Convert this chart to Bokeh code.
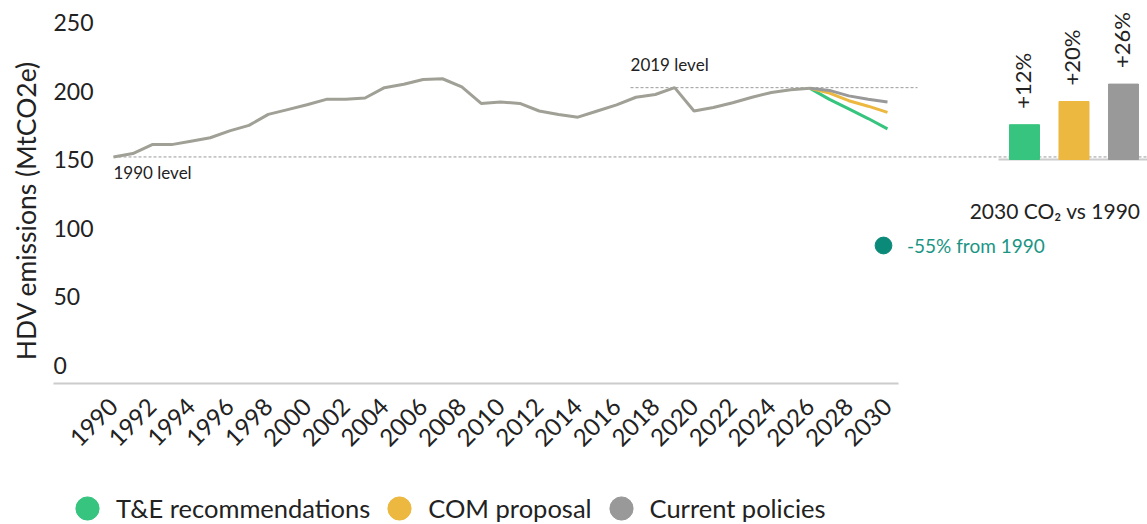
import math
import numpy as np
from bokeh.plotting import figure
from bokeh.models import (Range1d, FixedTicker, Legend, LegendItem, Label,
                          ColumnDataSource)
from bokeh.core.properties import value
from bokeh.embed import file_html
from bokeh.resources import INLINE

FONT = "Lato"
TEXT = "#222222"

# ---------------- data ----------------
years_hist = list(range(1990, 2027))
emissions_hist = [152, 154.5, 161, 161, 163.5, 166, 171, 175, 183, 186.5,
                  190, 194, 194, 195, 202.5, 205, 208.5, 209, 203, 191,
                  192, 191, 185.5, 183, 181, 185.5, 190, 195.5, 197.5, 202.5,
                  185.5, 188, 191.5, 195.5, 199, 201, 202]
years_proj = [2026, 2027, 2028, 2029, 2030]
te_recommendations = [202, 194, 187, 180, 172.5]
com_proposal = [202, 198.5, 193, 189, 184.5]
current_policies = [202, 200.5, 196.5, 194, 192]

scenario_names = ["T&E recommendations", "COM proposal", "Current policies"]
scenario_colors = ["#36c47e", "#ecb83f", "#999999"]
bar_values = [12, 20, 26]          # % change 2030 vs 1990
bar_labels = ["+12%", "+20%", "+26%"]

y_ticks = [0, 50, 100, 150, 200, 250]
x_ticks = list(range(1990, 2031, 2))

level_1990 = emissions_hist[0]
level_2019 = emissions_hist[years_hist.index(2019)]
y_title = "HDV emissions (MtCO2e)"
target_label = "-55% from 1990"
bars_title = "2030 CO\u2082 vs 1990"

# ---------------- figure (frame = whole canvas) ----------------
W, H = 1147, 524
X0, X1 = 1984.16, 2043.437
AX_LEFT, AX_RIGHT = 1986.90, 2030.57
Y_AXIS = -13.12
p = figure(width=W, height=H, output_backend="svg", toolbar_location=None,
           x_range=Range1d(X0, X1), y_range=Range1d(-115.89, 266.03),
           y_axis_location="right",
           min_border_left=0, min_border_right=0, min_border_top=0,
           min_border_bottom=0)
p.grid.visible = False
p.outline_line_color = None
p.background_fill_color = "white"
p.border_fill_color = "white"

p.extra_x_ranges = {"bars": Range1d(-20.687, 2.485)}
p.extra_y_ranges = {"pct": Range1d(-125.86, 54.83)}

# x axis (drawn inside frame at its own level)
xa = p.xaxis[0]
xa.fixed_location = Y_AXIS
xa.ticker = FixedTicker(ticks=x_ticks)
xa.bounds = (AX_LEFT, AX_RIGHT)
xa.axis_line_color = "#cccccc"
xa.axis_line_width = 2
xa.major_tick_line_color = None
xa.minor_tick_line_color = None
xa.major_tick_out = 0
xa.major_tick_in = 0
xa.major_label_orientation = math.pi / 4
xa.major_label_standoff = 19
xa.major_label_text_font = FONT
xa.major_label_text_font_size = "24px"
xa.major_label_text_color = TEXT

# y tick labels, left aligned inside the frame
ya = p.yaxis[0]
ya.fixed_location = AX_LEFT
ya.ticker = FixedTicker(ticks=y_ticks)
ya.axis_line_color = None
ya.major_tick_line_color = None
ya.minor_tick_line_color = None
ya.major_tick_in = 0
ya.major_tick_out = 0
ya.major_label_standoff = 0
ya.major_label_text_font = FONT
ya.major_label_text_font_size = "23px"
ya.major_label_text_color = TEXT

p.add_layout(Label(x=25, y=H - 210, x_units="screen", y_units="screen",
                   text=y_title, angle=math.pi / 2, text_align="center",
                   text_baseline="middle", text_font=FONT,
                   text_font_size="26.5px", text_color=TEXT))

# reference levels
p.segment(x0=[1990], y0=[level_1990], x1=[X1 + 1], y1=[level_1990],
          line_color="#9a9a9a", line_width=1, line_dash="3 2")
p.segment(x0=[2016.72], y0=[level_2019], x1=[2031.55], y1=[level_2019],
          line_color="#9a9a9a", line_width=1, line_dash="3 2")
p.text(x=[1990], y=[level_1990], text=["1990 level"], text_font=value(FONT),
       text_font_size="17px", text_color=TEXT, text_align="left",
       text_baseline="top", y_offset=5)
p.text(x=[2016.72], y=[level_2019], text=["2019 level"], text_font=value(FONT),
       text_font_size="17px", text_color=TEXT, text_align="left",
       text_baseline="bottom", y_offset=-13)

# lines
p.line(years_proj, te_recommendations, line_color=scenario_colors[0], line_width=3)
p.line(years_proj, com_proposal, line_color=scenario_colors[1], line_width=3)
p.line(years_proj, current_policies, line_color=scenario_colors[2], line_width=3)
p.line(years_hist, emissions_hist, line_color="#a0a096", line_width=3)

# bars
idx = list(range(len(scenario_names)))
src = ColumnDataSource(dict(x=idx, top=bar_values, color=scenario_colors,
                            label=bar_labels))
p.segment(x0=[-0.525], y0=[0], x1=[2.7], y1=[0], line_color="#cccccc",
          line_width=2, x_range_name="bars", y_range_name="pct")
p.vbar(x="x", top="top", bottom=0, width=0.606, color="color", source=src,
       x_range_name="bars", y_range_name="pct")
p.text(x="x", y="top", text="label", source=src, angle=math.pi / 2,
       text_align="left", text_baseline="middle", x_offset=-2, y_offset=-16,
       text_font=value(FONT), text_font_size="22px", text_color=TEXT,
       x_range_name="bars", y_range_name="pct")

p.add_layout(Label(x=1140, y=H - 210, x_units="screen", y_units="screen",
                   text=bars_title, text_align="right", text_baseline="middle",
                   text_font=FONT, text_font_size="21px", text_color=TEXT))

# legends (glyph-only renderers with no visible point)
nan = np.array([np.nan])
dummies = [p.scatter(x=nan, y=nan, color=c) for c in scenario_colors]
legend = Legend(items=[LegendItem(label=n, renderers=[r])
                       for n, r in zip(scenario_names, dummies)],
                orientation="horizontal", location=(58, -13),
                glyph_width=58, glyph_height=58, label_standoff=-6, spacing=-12,
                padding=0, margin=0, border_line_color=None,
                background_fill_alpha=0, label_text_font=FONT,
                label_text_font_size="25.5px", label_text_color=TEXT)
p.add_layout(legend, "center")

teal = "#0b8a7a"
target_r = p.scatter(x=nan, y=nan, color=teal)
legend2 = Legend(items=[LegendItem(label=target_label, renderers=[target_r])],
                 location=(862, 258), glyph_width=42, glyph_height=42,
                 label_standoff=3, padding=0, margin=0, border_line_color=None,
                 background_fill_alpha=0, label_text_font=FONT,
                 label_text_font_size="19px", label_text_color="#1a9585")
p.add_layout(legend2, "center")

open("out.html", "w").write(file_html(p, INLINE))
